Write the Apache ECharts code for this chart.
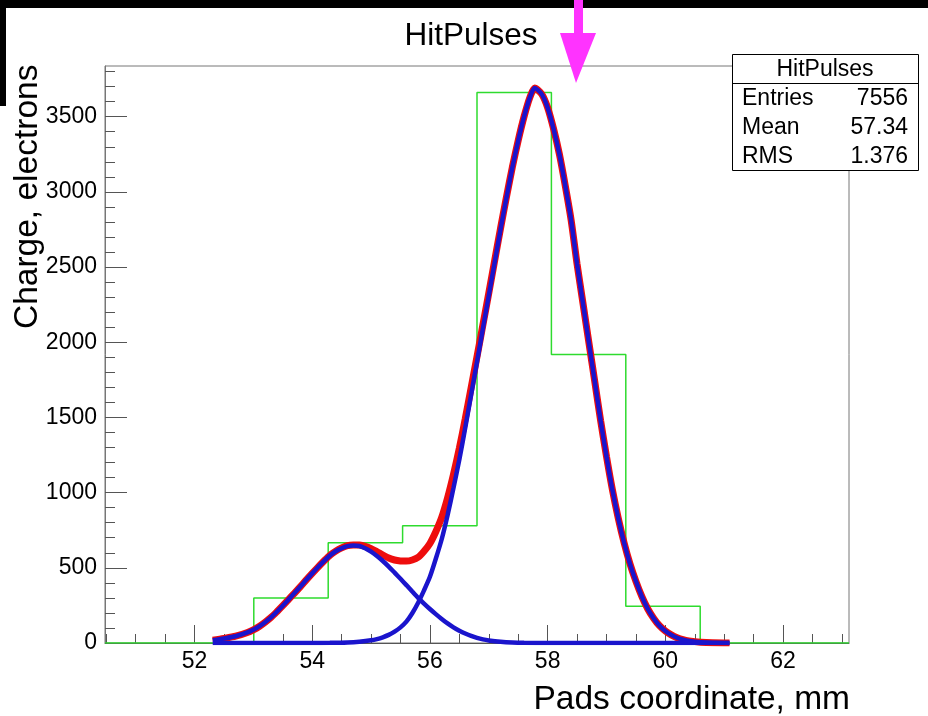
<!DOCTYPE html>
<html><head><meta charset="utf-8">
<script src="https://cdn.jsdelivr.net/npm/echarts@6/dist/echarts.min.js"></script>
<style>html,body{margin:0;padding:0;background:#fff}#c{width:928px;height:716px}</style>
</head><body><div id="c"></div>
<script>
// Histogram bins (Pads coordinate, mm) and charges (electrons)
const binEdges = [50.48, 51.744, 53.008, 54.272, 55.536, 56.8, 58.064, 59.328, 60.592, 61.856, 63.12];
const binCharges = [0, 0, 300, 667, 780, 3661, 1918, 245, 0, 0];

// Fit component 1 (small peak)
const fit1X = [52.31, 52.5, 52.7, 52.9, 53.0, 53.1, 53.2, 53.3, 53.4, 53.5, 53.6, 53.7, 53.8, 53.9, 54.0, 54.1, 54.2, 54.3, 54.4, 54.5, 54.6, 54.7, 54.8, 54.9, 55.0, 55.1, 55.2, 55.3, 55.4, 55.5, 55.6, 55.7, 55.8, 55.9, 56.0, 56.1, 56.2, 56.3, 56.4, 56.5, 56.6, 56.7, 56.8, 56.9, 57.0, 57.2, 57.4, 57.6, 58.0, 61.09];
const fit1Y = [18, 30, 45, 70, 88, 110, 138, 170, 208, 248, 290, 332, 375, 420, 463, 505, 545, 582, 610, 630, 644, 648, 645, 630, 607, 578, 545, 508, 468, 427, 385, 342, 300, 262, 226, 192, 160, 130, 104, 82, 63, 47, 34, 24, 17, 8, 3, 1, 0, 0];

// Fit component 2 (main peak)
const fit2X = [52.31, 54.0, 54.3, 54.6, 54.8, 55.0, 55.1, 55.2, 55.3, 55.4, 55.5, 55.6, 55.7, 55.8, 55.9, 56.0, 56.1, 56.2, 56.3, 56.4, 56.5, 56.6, 56.7, 56.8, 56.9, 57.0, 57.1, 57.2, 57.3, 57.4, 57.5, 57.6, 57.7, 57.78, 57.9, 58.0, 58.1, 58.2, 58.3, 58.4, 58.5, 58.6, 58.7, 58.8, 58.9, 59.0, 59.1, 59.2, 59.3, 59.4, 59.5, 59.6, 59.7, 59.8, 59.9, 60.0, 60.1, 60.2, 60.3, 60.4, 60.6, 60.8, 61.09];
const fit2Y = [0, 0, 1, 4, 9, 18, 26, 38, 54, 76, 104, 142, 198, 268, 350, 440, 560, 690, 850, 1030, 1220, 1430, 1650, 1870, 2090, 2310, 2530, 2750, 2960, 3160, 3340, 3500, 3630, 3690, 3650, 3560, 3420, 3250, 3040, 2810, 2520, 2260, 2000, 1740, 1480, 1240, 1020, 830, 665, 525, 410, 310, 228, 165, 115, 80, 54, 35, 22, 14, 5, 1, 0];

// Total fit (sum)
const fitSumX = [52.31, 52.5, 52.7, 52.9, 53.0, 53.1, 53.2, 53.3, 53.4, 53.5, 53.6, 53.7, 53.8, 53.9, 54.0, 54.1, 54.2, 54.3, 54.4, 54.5, 54.6, 54.7, 54.8, 54.9, 55.0, 55.1, 55.2, 55.3, 55.4, 55.5, 55.6, 55.7, 55.8, 55.9, 56.0, 56.1, 56.2, 56.3, 56.4, 56.5, 56.6, 56.7, 56.8, 56.9, 57.0, 57.1, 57.2, 57.3, 57.4, 57.5, 57.6, 57.7, 57.78, 57.9, 58.0, 58.1, 58.2, 58.3, 58.4, 58.5, 58.6, 58.7, 58.8, 58.9, 59.0, 59.1, 59.2, 59.3, 59.4, 59.5, 59.6, 59.7, 59.8, 59.9, 60.0, 60.1, 60.2, 60.3, 60.4, 60.6, 60.8, 61.09];
const fitSumY = [18, 30, 45, 70, 88, 110, 138, 170, 208, 248, 290, 332, 375, 420, 463, 505, 545, 583, 611, 633, 648, 652, 651, 643, 628, 607, 585, 565, 552, 546, 545, 552, 570, 610, 662, 740, 835, 965, 1120, 1295, 1490, 1697, 1904, 2115, 2327, 2542, 2758, 2965, 3163, 3342, 3501, 3630, 3690, 3650, 3560, 3420, 3250, 3040, 2810, 2520, 2260, 2000, 1740, 1480, 1240, 1020, 830, 665, 525, 410, 310, 228, 165, 115, 80, 54, 35, 22, 14, 5, 1, 0];

// Axis tick labels
const xTickLabels = [52, 54, 56, 58, 60, 62];
const yTickLabels = [0, 500, 1000, 1500, 2000, 2500, 3000, 3500];
const xMinorTicks = [];
for (let v = 50.5; v <= 63.0 + 1e-9; v += 0.5) { if (Math.abs(v / 2 - Math.round(v / 2)) > 1e-6) xMinorTicks.push(+v.toFixed(2)); }
const yMinorTicks = [];
for (let v = 100; v <= 3800; v += 100) { if (v % 500 !== 0) yMinorTicks.push(v); }

const FONT = '"Liberation Sans", Arial, Helvetica, sans-serif';
const zip = (xs, ys) => xs.map((x, i) => [x, ys[i]]);
const histData = binEdges.map((e, i) => [e, i < binCharges.length ? binCharges[i] : binCharges[binCharges.length - 1]]);

const chart = echarts.init(document.getElementById('c'), null, { renderer: 'canvas' });
const axisColor = '#555';
const txt = (text, x, y, size, align) => ({
  type: 'text', x: x, y: y, z: 102,
  style: { text: text, font: size + 'px ' + FONT, fill: '#000', align: align, verticalAlign: 'middle', textAlign: align, textVerticalAlign: 'middle' }
});
chart.setOption({
  animation: false,
  backgroundColor: '#fff',
  title: {
    text: 'HitPulses', left: 466, top: 15, textAlign: 'center',
    textStyle: { fontFamily: FONT, fontSize: 31.5, fontWeight: 'normal', color: '#000' }
  },
  grid: { left: 105, top: 66, right: 79, bottom: 73, show: true, borderColor: '#777', borderWidth: 1, backgroundColor: 'transparent' },
  xAxis: [{
    type: 'value', min: 50.48, max: 63.12, position: 'bottom',
    axisLine: { show: true, onZero: false, lineStyle: { color: axisColor, width: 1 } },
    axisTick: { show: true, inside: true, length: 18, customValues: xTickLabels, lineStyle: { color: axisColor } },
    axisLabel: { show: true, customValues: xTickLabels, margin: 7, fontFamily: FONT, fontSize: 23, color: '#000', formatter: v => String(v) },
    splitLine: { show: false }
  }, {
    type: 'value', min: 50.48, max: 63.12, position: 'bottom',
    axisLine: { show: false },
    axisTick: { show: true, inside: true, length: 9, customValues: xMinorTicks, lineStyle: { color: axisColor } },
    axisLabel: { show: false },
    splitLine: { show: false }
  }],
  yAxis: [{
    type: 'value', min: 0, max: 3837, position: 'left',
    axisLine: { show: true, onZero: false, lineStyle: { color: '#777', width: 1 } },
    axisTick: { show: true, inside: true, length: 22, customValues: yTickLabels, lineStyle: { color: axisColor } },
    axisLabel: { show: true, customValues: yTickLabels, margin: 8, fontFamily: FONT, fontSize: 23, color: '#000', formatter: v => String(v) },
    splitLine: { show: false }
  }, {
    type: 'value', min: 0, max: 3837, position: 'left',
    axisLine: { show: false },
    axisTick: { show: true, inside: true, length: 10, customValues: yMinorTicks, lineStyle: { color: axisColor } },
    axisLabel: { show: false },
    splitLine: { show: false }
  }],
  series: [{
    type: 'line', name: 'hist', data: histData, step: 'end', symbol: 'none', z: 3,
    lineStyle: { color: '#2edb2e', width: 1.5 }
  }, {
    type: 'line', name: 'total', data: zip(fitSumX, fitSumY), smooth: 0.25, symbol: 'none', z: 4,
    lineStyle: { color: '#ee0d0d', width: 7 }
  }, {
    type: 'line', name: 'g1', data: zip(fit1X, fit1Y), smooth: 0.25, symbol: 'none', z: 5,
    lineStyle: { color: '#1a14cc', width: 4.5 }
  }, {
    type: 'line', name: 'g2', data: zip(fit2X, fit2Y), smooth: 0.25, symbol: 'none', z: 5,
    lineStyle: { color: '#1a14cc', width: 4.5 }
  }],
  graphic: [
    { type: 'rect', shape: { x: 0, y: 0, width: 928, height: 8 }, style: { fill: '#000' }, z: 100 },
    { type: 'rect', shape: { x: 0, y: 0, width: 6, height: 106 }, style: { fill: '#000' }, z: 100 },
    { type: 'rect', shape: { x: 574, y: 0, width: 9, height: 34 }, style: { fill: '#ff33ff' }, z: 101 },
    { type: 'polygon', shape: { points: [[560, 33], [596, 33], [576, 83]] }, style: { fill: '#ff33ff' }, z: 101 },
    { type: 'rect', shape: { x: 732.5, y: 54.5, width: 186, height: 116 }, style: { fill: '#fff', stroke: '#000', lineWidth: 1 }, z: 100 },
    { type: 'line', shape: { x1: 732.5, y1: 83.5, x2: 918.5, y2: 83.5 }, style: { stroke: '#000', lineWidth: 1 }, z: 101 },
    txt('HitPulses', 825, 70, 23, 'center'),
    txt('Entries', 742, 99, 23, 'left'),
    txt('7556', 908, 99, 23, 'right'),
    txt('Mean', 742, 128, 23, 'left'),
    txt('57.34', 908, 128, 23, 'right'),
    txt('RMS', 742, 157, 23, 'left'),
    txt('1.376', 908, 157, 23, 'right'),
    Object.assign(txt('Charge, electrons', 28, 329, 33.5, 'left'), { rotation: Math.PI / 2 }),
    txt('Pads coordinate, mm', 850, 700, 33.5, 'right')
  ]
});
</script>
</body></html>
